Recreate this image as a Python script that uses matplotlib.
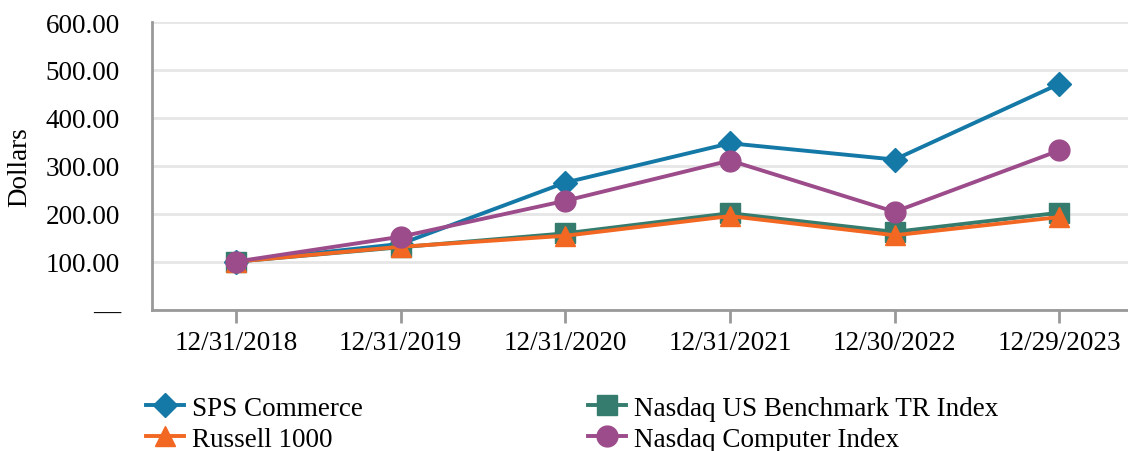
import matplotlib
matplotlib.use("Agg")
import matplotlib.pyplot as plt

dates = ["12/31/2018", "12/31/2019", "12/31/2020", "12/31/2021", "12/30/2022", "12/29/2023"]
sps = [100, 137, 265, 347, 313, 471]
nasdaq_us = [100, 130, 159, 201, 162, 202]
russell = [100, 131, 154, 195, 155, 193]
nasdaq_comp = [100, 152, 227, 311, 204, 332]
yticks = [0, 100, 200, 300, 400, 500, 600]
ytick_labels = ["—", "100.00", "200.00", "300.00", "400.00", "500.00", "600.00"]

plt.rcParams['font.family'] = ['Liberation Serif', 'DejaVu Serif']

fig = plt.figure(figsize=(11.28, 4.52), dpi=100)
ax = fig.add_axes([0.1348, 0.313, 0.87, 0.636])
x = list(range(len(dates)))

h1, = ax.plot(x, sps, color="#1479a6", lw=2.8, marker="D", ms=12, label="SPS Commerce", zorder=3)
h3, = ax.plot(x, nasdaq_us, color="#367c6e", lw=2.8, marker="s", ms=14, label="Nasdaq US Benchmark TR Index", zorder=4)
h2, = ax.plot(x, russell, color="#f26722", lw=2.8, marker="^", ms=15, label="Russell 1000", zorder=5)
h4, = ax.plot(x, nasdaq_comp, color="#9c4c8a", lw=2.8, marker="o", ms=15, label="Nasdaq Computer Index", zorder=6)

ax.set_xlim(-0.51, 5.45)
ax.set_ylim(0, 600)
ax.set_yticks(yticks)
ax.set_yticklabels(ytick_labels, fontsize=19.5)
ax.set_xticks(x)
ax.set_xticklabels(dates, fontsize=19.5)
ax.tick_params(axis='y', length=0, pad=23)
ax.tick_params(axis='x', length=9, width=2, color="#999999", pad=6)
ax.grid(axis='y', color="#e6e6e6", lw=2)
ax.set_axisbelow(True)
for s in ["top", "right"]:
    ax.spines[s].set_visible(False)
for s in ["left", "bottom"]:
    ax.spines[s].set_color("#999999")
    ax.spines[s].set_linewidth(2)
ax.set_ylabel("Dollars", fontsize=19.5, labelpad=10)

fig.legend(handles=[h1, h2, h3, h4], loc="lower left", bbox_to_anchor=(0.12, -0.026),
           ncol=2, frameon=False, fontsize=19.5, columnspacing=8.3, handlelength=1.4,
           handletextpad=0.3, labelspacing=0.22, borderaxespad=0)

fig.savefig("out.png", dpi=100)
